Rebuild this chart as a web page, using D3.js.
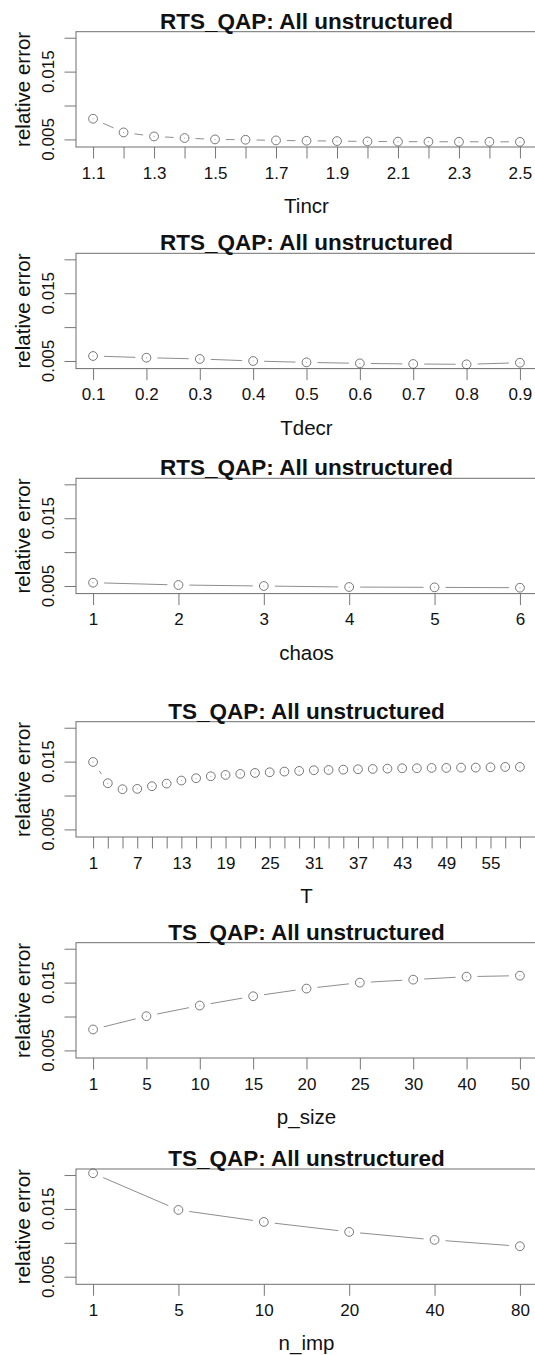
<!DOCTYPE html>
<html>
<head>
<meta charset="utf-8">
<script src="https://cdn.jsdelivr.net/npm/d3@7"></script>
<style>
  body { margin: 0; background: #fff; }
  svg { display: block; font-family: "Liberation Sans", Arial, Helvetica, sans-serif; }
</style>
</head>
<body>
<svg width="535" height="1355"></svg>
<script>
// data
const tincrLabels = ["1.1","1.2","1.3","1.4","1.5","1.6","1.7","1.8","1.9","2.0","2.1","2.2","2.3","2.4","2.5"];
const tincrError = [0.00805,0.00603,0.00544,0.0052,0.0050,0.00495,0.00485,0.0048,0.00475,0.0047,0.00467,0.00466,0.00465,0.00465,0.00464];

const tdecrLabels = ["0.1","0.2","0.3","0.4","0.5","0.6","0.7","0.8","0.9"];
const tdecrError = [0.00574,0.00549,0.0053,0.0050,0.0048,0.00465,0.00456,0.00451,0.00475];

const chaosLabels = ["1","2","3","4","5","6"];
const chaosError = [0.00549,0.00515,0.0050,0.00485,0.0048,0.00475];

const tLabels = ["1","3","5","7","9","11","13","15","17","19","21","23","25","27","29",
                 "31","33","35","37","39","41","43","45","47","49","51","53","55","57","59"];
const tError = [0.01495,0.01181,0.01093,0.01098,0.01137,0.01176,0.01221,0.01255,0.01284,0.01304,
                0.01319,0.01333,0.01343,0.01353,0.01363,0.01373,0.01377,0.01382,0.01387,0.01392,
                0.01397,0.01402,0.01402,0.01407,0.01407,0.01412,0.01412,0.01417,0.01422,0.01422];

const psizeLabels = ["1","5","10","15","20","25","30","40","50"];
const psizeError = [0.00809,0.01005,0.01162,0.01299,0.01412,0.0150,0.01544,0.01588,0.01603];

const nimpLabels = ["1","5","10","20","40","80"];
const nimpError = [0.02026,0.01485,0.01308,0.01161,0.01043,0.00949];

const yTicks = [0.005, 0.010, 0.015, 0.020];
const yTickLabels = ["0.005", "", "0.015", ""];

const panels = [
  {title: "RTS_QAP: All unstructured", xlab: "Tincr",  labels: tincrLabels, values: tincrError, every: 2, top: 31.7},
  {title: "RTS_QAP: All unstructured", xlab: "Tdecr",  labels: tdecrLabels, values: tdecrError, every: 1, top: 253.3},
  {title: "RTS_QAP: All unstructured", xlab: "chaos",  labels: chaosLabels, values: chaosError, every: 1, top: 478.3},
  {title: "TS_QAP: All unstructured",  xlab: "T",      labels: tLabels,     values: tError,     every: 3, top: 721.7},
  {title: "TS_QAP: All unstructured",  xlab: "p_size", labels: psizeLabels, values: psizeError, every: 1, top: 942.7},
  {title: "TS_QAP: All unstructured",  xlab: "n_imp",  labels: nimpLabels,  values: nimpError,  every: 1, top: 1169}
];

/*
 * layout constants (R base-graphics look)
 */
const PLOT_LEFT = 76;
const PLOT_RIGHT = 537;   // right edge falls just outside the picture
const PLOT_HEIGHT = 115.3;
const TICK_LEN = 11.5;
const GAP = 11;           // type="b" gap between point and segment
const R_PT = 4.4;
const TICK_FONT = "17px";
const LAB_FONT = "20.5px";

const svg = d3.select("svg");

// shared y range: range of all data, extended 4% like R
const allValues = [].concat(...panels.map(p => p.values));
const [yMin, yMax] = d3.extent(allValues);
const yPad = 0.04 * (yMax - yMin);

function drawPanel(p) {
  const top = p.top;
  const bottom = top + PLOT_HEIGHT;
  const n = p.labels.length;
  const xPad = 0.04 * (n - 1);

  const x = d3.scaleLinear().domain([1 - xPad, n + xPad]).range([PLOT_LEFT, PLOT_RIGHT]);
  const y = d3.scaleLinear().domain([yMin - yPad, yMax + yPad]).range([bottom, top]);

  const g = svg.append("g");

  // x axis
  const xAxis = d3.axisBottom(x)
    .tickValues(d3.range(1, n + 1))
    .tickSize(TICK_LEN)
    .tickPadding(8)
    .tickFormat(i => ((i - 1) % p.every === 0 ? p.labels[i - 1] : ""));
  const xg = g.append("g")
    .attr("transform", `translate(0,${bottom})`)
    .call(xAxis);
  xg.select(".domain").remove();
  xg.selectAll(".tick line").attr("stroke", "#777");
  xg.selectAll(".tick text")
    .attr("font-size", TICK_FONT)
    .attr("font-family", "Liberation Sans, Arial, sans-serif")
    .attr("fill", "#111");

  // y axis
  const yAxis = d3.axisLeft(y).tickValues(yTicks).tickSize(TICK_LEN).tickFormat("");
  const yg = g.append("g")
    .attr("transform", `translate(${PLOT_LEFT},0)`)
    .call(yAxis);
  yg.select(".domain").remove();
  yg.selectAll(".tick line").attr("stroke", "#777");

  yTicks.forEach((t, i) => {
    if (!yTickLabels[i]) return;
    g.append("text")
      .attr("transform", `translate(${PLOT_LEFT - 22.5},${y(t)}) rotate(-90)`)
      .attr("text-anchor", "middle")
      .attr("font-size", TICK_FONT)
      .attr("fill", "#111")
      .text(yTickLabels[i]);
  });

  // box
  g.append("rect")
    .attr("x", PLOT_LEFT)
    .attr("y", top)
    .attr("width", PLOT_RIGHT - PLOT_LEFT)
    .attr("height", PLOT_HEIGHT)
    .attr("fill", "none")
    .attr("stroke", "#6e6e6e")
    .attr("stroke-width", 1);

  // type = "b": segments with gaps
  const pts = p.values.map((v, i) => [x(i + 1), y(v)]);
  for (let i = 0; i < pts.length - 1; i++) {
    const [x1, y1] = pts[i];
    const [x2, y2] = pts[i + 1];
    const len = Math.hypot(x2 - x1, y2 - y1);
    if (len <= 2 * GAP) continue;
    const ux = (x2 - x1) / len, uy = (y2 - y1) / len;
    g.append("line")
      .attr("x1", x1 + ux * GAP).attr("y1", y1 + uy * GAP)
      .attr("x2", x2 - ux * GAP).attr("y2", y2 - uy * GAP)
      .attr("stroke", "#808080")
      .attr("stroke-width", 0.9);
  }

  g.selectAll("circle.pt")
    .data(pts)
    .join("circle")
    .attr("class", "pt")
    .attr("cx", d => d[0])
    .attr("cy", d => d[1])
    .attr("r", R_PT)
    .attr("fill", "none")
    .attr("stroke", "#555")
    .attr("stroke-width", 0.8);

  g.selectAll("circle.dot")
    .data(pts)
    .join("circle")
    .attr("class", "dot")
    .attr("cx", d => d[0])
    .attr("cy", d => d[1])
    .attr("r", 0.6)
    .attr("fill", "#aaa");

  // titles
  g.append("text")
    .attr("x", (PLOT_LEFT + PLOT_RIGHT) / 2)
    .attr("y", top - 3)
    .attr("text-anchor", "middle")
    .attr("font-size", "22.5px")
    .attr("font-weight", "bold")
    .attr("fill", "#111")
    .text(p.title);

  g.append("text")
    .attr("x", (PLOT_LEFT + PLOT_RIGHT) / 2)
    .attr("y", bottom + 66)
    .attr("text-anchor", "middle")
    .attr("font-size", LAB_FONT)
    .attr("fill", "#111")
    .text(p.xlab);

  g.append("text")
    .attr("transform", `translate(30,${(top + bottom) / 2}) rotate(-90)`)
    .attr("text-anchor", "middle")
    .attr("font-size", LAB_FONT)
    .attr("fill", "#111")
    .text("relative error");
}

panels.forEach(drawPanel);
</script>
</body>
</html>
